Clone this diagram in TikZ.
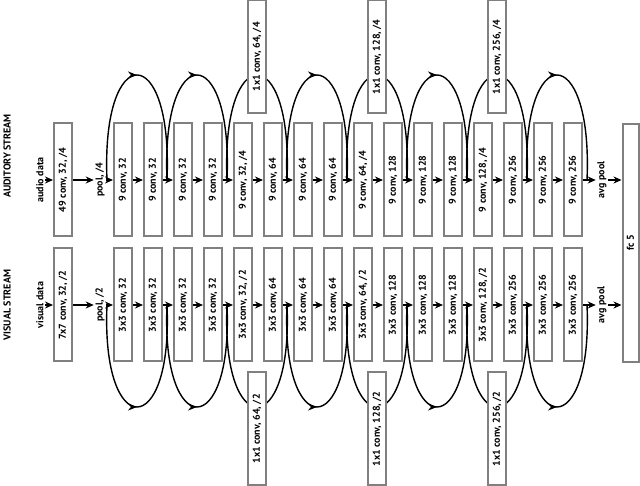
\documentclass[tikz,border=0pt]{standalone}
\usepackage{fontspec}
\setmainfont{PT Sans}
\usetikzlibrary{arrows.meta,decorations.markings}

\begin{document}
\begin{tikzpicture}[
  x=1pt, y=1pt,
  every node/.style={rotate=90, font=\fontsize{10}{11}\selectfont\bfseries, inner sep=1.5pt},
  layer/.style={draw=gray, line width=2pt, fill=white, minimum width=113pt, minimum height=18pt, inner sep=0pt},
  flow/.style={-{Stealth[length=8pt,width=7pt]}, line width=1.3pt},
  skip/.style={line width=1.4pt, postaction={decorate},
    decoration={markings, mark=at position 0.5 with {\arrow{Stealth[length=9pt,width=7pt]}}}},
  plain/.style={line width=1.4pt}
]
\useasboundingbox (0,0) rectangle (640,486);
\node (atitle) at (7,330) {AUDITORY STREAM};
\node (vtitle) at (7,181) {VISUAL STREAM};
\node (ain) at (40,306) {audio data};
\node (vin) at (40,181) {visual data};
\node[layer] (a) at (63,306) {49 conv, 32, /4};
\node[layer] (v) at (63,181) {7x7 conv, 32, /2};
\node (apool) at (100,306) {pool, /4};
\node (vpool) at (100,181) {pool, /2};
\foreach \i/\c/\s in {0/32/0,1/32/0,2/32/0,3/32/0,4/32/1,5/64/0,6/64/0,7/64/0,8/64/1,
  9/128/0,10/128/0,11/128/0,12/128/1,13/256/0,14/256/0,15/256/0}{
  \node[layer] (a\i) at (123+30*\i,306) {9 conv, \c\ifnum\s=1, /4\fi};
  \node[layer] (v\i) at (123+30*\i,181) {3x3 conv, \c\ifnum\s=1, /2\fi};
}
\node (aavg) at (602,306) {avg pool};
\node (vavg) at (602,181) {avg pool};
\node[layer, minimum width=238pt, minimum height=16pt] (fc) at (630.5,243) {fc 5};
\foreach \k in {0,...,8}{
  \coordinate (aj\k) at (107+60*\k,306);
  \coordinate (vj\k) at (107+60*\k,181);
}
\draw[flow] (ain) -- (a);
\draw[flow] (vin) -- (v);
\draw[flow] (a) -- (apool);
\draw[flow] (v) -- (vpool);
\draw[flow] (apool) -- (a0);
\draw[flow] (vpool) -- (v0);
\foreach \i [evaluate=\i as \j using int(\i+1)] in {0,...,14}{
  \draw[flow] (a\i) -- (a\j);
  \draw[flow] (v\i) -- (v\j);
}
\draw[flow] (a15) -- (aavg);
\draw[flow] (v15) -- (vavg);
\draw[flow] (aavg) -- (aavg -| fc.north);
\draw[flow] (vavg) -- (vavg -| fc.north);
\foreach \k [evaluate=\k as \kk using int(\k+1)] in {0,1,3,5,7}{
  \draw[skip] (aj\k) .. controls +(-6,140) and +(6,140) .. (aj\kk);
  \draw[skip] (vj\k) .. controls +(-6,-136) and +(6,-136) .. (vj\kk);
}
\foreach \k [evaluate=\k as \kk using int(\k+1)] in {2,4,6}{
  \draw[plain] (aj\k) .. controls +(-6,140) and +(6,140) .. (aj\kk);
  \draw[plain] (vj\k) .. controls +(-6,-136) and +(6,-136) .. (vj\kk);
}
\foreach \k/\c in {2/64,4/128,6/256}{
  \node[layer, minimum height=18pt] (ab\k) at (137+60*\k,429) {1x1 conv, \c, /4};
  \node[layer, minimum height=18pt] (vb\k) at (137+60*\k,57) {1x1 conv, \c, /2};
}
\end{tikzpicture}
\end{document}
